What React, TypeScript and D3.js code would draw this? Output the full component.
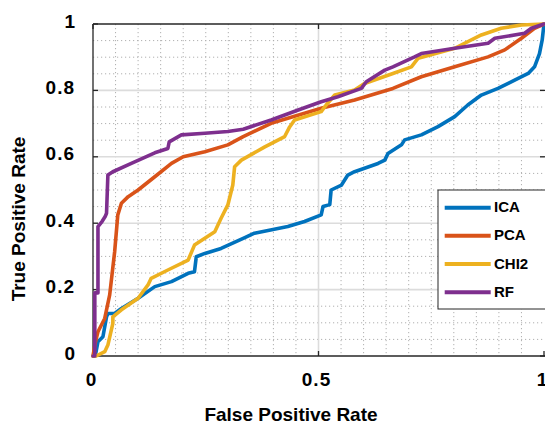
import React from "react";
import * as d3 from "d3";

const seriesNames = ["ICA", "PCA", "CHI2", "RF"];
const seriesColors = ["#0072BD", "#D95319", "#EDB120", "#7E2F8E"];

const icaFpr = [0, 0.005, 0.011, 0.022, 0.03, 0.033, 0.048, 0.063, 0.1, 0.137, 0.174, 0.211, 0.225, 0.229, 0.248, 0.284, 0.333, 0.358, 0.432, 0.469, 0.506, 0.51, 0.525, 0.528, 0.551, 0.565, 0.58, 0.632, 0.647, 0.654, 0.684, 0.691, 0.728, 0.765, 0.802, 0.831, 0.861, 0.898, 0.935, 0.965, 0.979, 0.99, 0.996, 1];
const icaTpr = [0, 0, 0.043, 0.058, 0.118, 0.128, 0.128, 0.143, 0.174, 0.209, 0.224, 0.249, 0.254, 0.299, 0.309, 0.324, 0.354, 0.37, 0.39, 0.405, 0.425, 0.45, 0.456, 0.5, 0.515, 0.545, 0.555, 0.58, 0.59, 0.61, 0.636, 0.651, 0.666, 0.691, 0.721, 0.756, 0.786, 0.806, 0.831, 0.851, 0.871, 0.911, 0.952, 1];

const pcaFpr = [0, 0.005, 0.011, 0.026, 0.037, 0.048, 0.055, 0.063, 0.078, 0.1, 0.137, 0.174, 0.2, 0.248, 0.299, 0.333, 0.395, 0.469, 0.506, 0.58, 0.665, 0.728, 0.802, 0.876, 0.913, 0.95, 0.979, 1];
const pcaTpr = [0, 0.04, 0.073, 0.113, 0.184, 0.314, 0.425, 0.46, 0.48, 0.5, 0.54, 0.58, 0.6, 0.615, 0.636, 0.661, 0.701, 0.731, 0.746, 0.771, 0.806, 0.841, 0.871, 0.901, 0.922, 0.957, 0.987, 1];

const chiFpr = [0, 0.007, 0.026, 0.033, 0.044, 0.044, 0.063, 0.1, 0.122, 0.129, 0.166, 0.211, 0.225, 0.27, 0.284, 0.299, 0.31, 0.314, 0.329, 0.381, 0.425, 0.436, 0.447, 0.506, 0.517, 0.536, 0.58, 0.602, 0.665, 0.706, 0.721, 0.802, 0.861, 0.905, 0.95, 1];
const chiTpr = [0, 0, 0.013, 0.033, 0.098, 0.118, 0.139, 0.174, 0.214, 0.234, 0.259, 0.289, 0.334, 0.374, 0.415, 0.455, 0.515, 0.57, 0.59, 0.63, 0.661, 0.69, 0.711, 0.736, 0.756, 0.786, 0.801, 0.821, 0.851, 0.871, 0.897, 0.927, 0.967, 0.987, 0.997, 1];

const rfFpr = [0, 0.004, 0.004, 0.011, 0.011, 0.02, 0.027, 0.03, 0.033, 0.044, 0.085, 0.137, 0.166, 0.169, 0.196, 0.248, 0.299, 0.333, 0.395, 0.455, 0.506, 0.543, 0.595, 0.606, 0.647, 0.665, 0.713, 0.728, 0.802, 0.876, 0.891, 0.957, 0.972, 1];
const rfTpr = [0, 0, 0.19, 0.19, 0.39, 0.405, 0.42, 0.43, 0.545, 0.555, 0.58, 0.612, 0.625, 0.645, 0.666, 0.671, 0.676, 0.683, 0.711, 0.741, 0.766, 0.781, 0.806, 0.826, 0.861, 0.871, 0.901, 0.911, 0.927, 0.942, 0.957, 0.972, 0.987, 1];

const seriesFpr = [icaFpr, pcaFpr, chiFpr, rfFpr];
const seriesTpr = [icaTpr, pcaTpr, chiTpr, rfTpr];

const xTicks = [0, 0.5, 1];
const yTicks = [0, 0.2, 0.4, 0.6, 0.8, 1];
const xTickLabels = ["0", "0.5", "1"];
const yTickLabels = ["0", "0.2", "0.4", "0.6", "0.8", "1"];
const minorTicks = d3.range(1, 20).map((i) => i * 0.05);

const W = 545;
const H = 425;
const L = 93;
const T = 24;
const R = 544;
const B = 356;

export default function App() {
  const x = d3.scaleLinear().domain([0, 1]).range([L, R]);
  const y = d3.scaleLinear().domain([0, 1]).range([B, T]);
  const line = d3
    .line<[number, number]>()
    .x((d) => x(d[0]))
    .y((d) => y(d[1]));
  const font = "Arial, 'Liberation Sans', Helvetica, sans-serif";
  const isMajorX = (v: number) => xTicks.some((t) => Math.abs(t - v) < 1e-6);
  const isMajorY = (v: number) => yTicks.some((t) => Math.abs(t - v) < 1e-6);

  const legendX = 438;
  const legendY = 190;
  const legendRows = [207.7, 235.7, 264, 292.3];

  return (
    <svg
      width={W}
      height={H}
      style={{ position: "absolute", left: 0, top: 0, background: "#fff" }}
      fontFamily={font}
    >
      <rect x={0} y={0} width={W} height={H} fill="#fff" />
      {/* minor grid */}
      {minorTicks
        .filter((v) => !isMajorX(v))
        .map((v) => (
          <line
            key={"mx" + v}
            x1={x(v)}
            x2={x(v)}
            y1={T}
            y2={B}
            stroke="#b0b0b0"
            strokeWidth={1}
            strokeDasharray="1.2 2.8"
          />
        ))}
      {minorTicks
        .filter((v) => !isMajorY(v))
        .map((v) => (
          <line
            key={"my" + v}
            x1={L}
            x2={R}
            y1={y(v)}
            y2={y(v)}
            stroke="#b0b0b0"
            strokeWidth={1}
            strokeDasharray="1.2 2.8"
          />
        ))}
      {/* major grid */}
      {xTicks
        .filter((v) => v > 0 && v < 1)
        .map((v) => (
          <line key={"gx" + v} x1={x(v)} x2={x(v)} y1={T} y2={B} stroke="#dcdcdc" strokeWidth={1.6} />
        ))}
      {yTicks
        .filter((v) => v > 0 && v < 1)
        .map((v) => (
          <line key={"gy" + v} x1={L} x2={R} y1={y(v)} y2={y(v)} stroke="#dcdcdc" strokeWidth={1.6} />
        ))}
      {/* axes */}
      <line x1={L} x2={R + 1} y1={T} y2={T} stroke="#262626" strokeWidth={1.3} />
      <line x1={L} x2={R + 1} y1={B} y2={B} stroke="#262626" strokeWidth={1.3} />
      <line x1={L} x2={L} y1={T} y2={B} stroke="#262626" strokeWidth={1.3} />
      {yTicks.map((v) => (
        <g key={"ty" + v}>
          <line x1={L} x2={L + 5} y1={y(v)} y2={y(v)} stroke="#262626" strokeWidth={1.3} />
          <line x1={R - 4} x2={R + 1} y1={y(v)} y2={y(v)} stroke="#262626" strokeWidth={1.3} />
        </g>
      ))}
      {xTicks.map((v) => (
        <g key={"tx" + v}>
          <line x1={x(v)} x2={x(v)} y1={B} y2={B - 5} stroke="#262626" strokeWidth={1.3} />
          <line x1={x(v)} x2={x(v)} y1={T} y2={T + 5} stroke="#262626" strokeWidth={1.3} />
        </g>
      ))}
      {/* curves */}
      {seriesNames.map((name, i) => {
        const pts = seriesFpr[i].map((f, j) => [f, seriesTpr[i][j]] as [number, number]);
        return (
          <path
            key={name}
            d={line(pts) || ""}
            fill="none"
            stroke={seriesColors[i]}
            strokeWidth={3.6}
            strokeLinejoin="round"
            strokeLinecap="round"
          />
        );
      })}
      {/* tick labels */}
      {yTicks.map((v, i) => (
        <text
          key={"yl" + v}
          x={75}
          y={y(v) - 3}
          textAnchor="end"
          dominantBaseline="central"
          fontSize={19}
          fontWeight="bold"
          fill="#000"
          letterSpacing={yTickLabels[i].length > 1 ? 1 : 0}
        >
          {yTickLabels[i]}
        </text>
      ))}
      {xTicks.map((v, i) => (
        <text
          key={"xl" + v}
          x={x(v) - 2}
          y={385.5}
          textAnchor="middle"
          fontSize={19}
          fontWeight="bold"
          fill="#000"
          letterSpacing={xTickLabels[i].length > 1 ? 1 : 0}
        >
          {xTickLabels[i]}
        </text>
      ))}
      {/* axis titles */}
      <text x={291} y={420.5} textAnchor="middle" fontSize={19} fontWeight="bold" fill="#000">
        False Positive Rate
      </text>
      <text
        transform={`translate(25,219) rotate(-90)`}
        textAnchor="middle"
        fontSize={19}
        fontWeight="bold"
        fill="#000"
      >
        True Positive Rate
      </text>
      {/* legend */}
      <rect x={legendX} y={legendY} width={120} height={119} fill="#fff" stroke="#262626" strokeWidth={1} />
      {seriesNames.map((name, i) => (
        <g key={"lg" + name}>
          <line
            x1={444.7}
            x2={490.7}
            y1={legendRows[i]}
            y2={legendRows[i]}
            stroke={seriesColors[i]}
            strokeWidth={4}
          />
          <text x={494} y={legendRows[i] - 1} dominantBaseline="central" fontSize={15} fontWeight="bold" fill="#000">
            {name}
          </text>
        </g>
      ))}
    </svg>
  );
}
